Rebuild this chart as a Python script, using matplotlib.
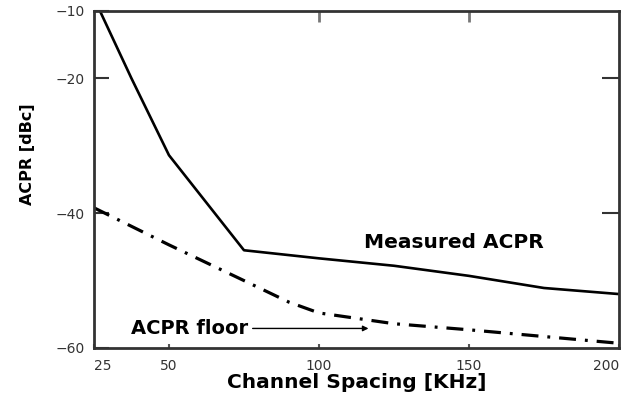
import numpy as np
import matplotlib
matplotlib.use('Agg')
import matplotlib.pyplot as plt

# values
spacing_meas = [27, 37.5, 50, 75, 100, 125, 150, 175, 200]
acpr_meas = [-10, -20, -31.4, -45.5, -46.7, -47.8, -49.3, -51.1, -52.0]

spacing_floor = [25, 50, 75, 90, 100, 125, 150, 175, 200]
acpr_floor = [-39.2, -44.7, -50.0, -53.2, -54.8, -56.4, -57.3, -58.3, -59.3]

xticks = [25, 50, 100, 150, 200]
yticks = [-10, -20, -40, -60]

fig = plt.figure(figsize=(6.24, 4.01), dpi=100)
ax = fig.add_axes([0.1506, 0.1322, 0.8414, 0.8404])

ax.plot(spacing_meas, acpr_meas, color='black', linewidth=1.9)
ax.plot(spacing_floor, acpr_floor, color='black', linewidth=2.3,
        dashes=(5.3, 2.8, 0.9, 2.8))

ax.set_xlim(25, 200)
ax.set_ylim(-60, -10)

ax.set_xticks(xticks)
ax.set_xticklabels([str(t) for t in xticks], color='#333333', fontsize=10)
labs = ax.get_xticklabels()
labs[0].set_ha('left')
labs[-1].set_ha('right')
ax.set_yticks(yticks)
ax.set_yticklabels(['\u2212' + str(-t) for t in yticks], color='#333333', fontsize=10)
ax.tick_params(axis='x', direction='in', length=3, width=1.5, color='#555555', pad=8)
ax.tick_params(axis='y', direction='in', length=11, width=1.5, color='#333333', pad=6.5)

# tick marks on the top and right sides
top = ax.secondary_xaxis('top')
top.set_xticks([100, 150])
top.set_xticklabels([])
top.tick_params(direction='in', length=8, width=2, color='#777777')
right = ax.secondary_yaxis('right')
right.set_yticks([-20, -40])
right.set_yticklabels([])
right.tick_params(direction='in', length=12, width=1.5, color='#333333')

for sp in ax.spines.values():
    sp.set_linewidth(2)
    sp.set_color('#333333')
top.spines['top'].set_visible(False)
right.spines['right'].set_visible(False)

ax.set_xlabel('Channel Spacing [KHz]', fontsize=14.5, fontweight='bold', labelpad=0)
ax.set_ylabel('ACPR [dBc]', fontsize=11.5, fontweight='bold')
ax.yaxis.set_label_coords(-0.112, 0.576)

ax.text(145, -44.4, 'Measured ACPR', fontsize=14.5, fontweight='bold',
        ha='center', va='center')
ax.annotate('ACPR floor', xy=(116.5, -57.1), xytext=(76.5, -57.1),
            fontsize=14, fontweight='bold', ha='right', va='center',
            arrowprops=dict(arrowstyle='-|>', color='black', lw=1,
                            mutation_scale=8, shrinkA=1, shrinkB=0))

fig.savefig('out.png', dpi=100)
